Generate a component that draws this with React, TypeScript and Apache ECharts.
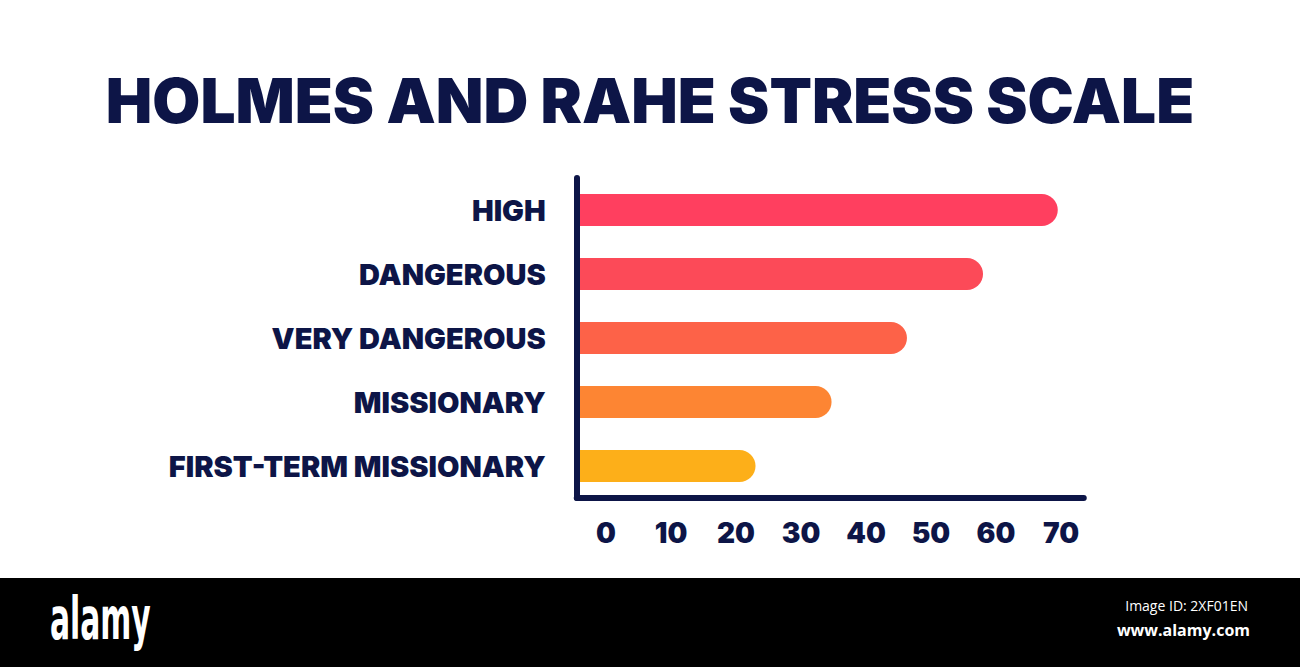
import React, { useEffect, useRef } from "react";
import * as echarts from "echarts";

const TITLE = "HOLMES AND RAHE STRESS SCALE";
const categories = ["HIGH", "DANGEROUS", "VERY DANGEROUS", "MISSIONARY", "FIRST-TERM MISSIONARY"];
const values = [69.5, 58, 46.3, 34.7, 23];
const barColors = ["#FF3F5F", "#FC4A58", "#FD6248", "#FD8533", "#FDAF19"];
const tickValues = [0, 10, 20, 30, 40, 50, 60, 70];
const AXIS_MIN = -4.5;
const AXIS_MAX = 73.5;

const NAVY = "#0D1547";
const FONT = "Inter, 'Noto Sans', sans-serif";

export default function App() {
  const ref = useRef<HTMLDivElement>(null);
  useEffect(() => {
    if (!ref.current) return;
    const chart = echarts.init(ref.current, undefined, { renderer: "svg" });
    chart.setOption({
      animation: false,
      backgroundColor: "#ffffff",
      title: {
        text: TITLE,
        left: "center",
        top: 64,
        textStyle: { fontFamily: FONT, fontWeight: 900, fontSize: 62, color: NAVY },
      },
      grid: { left: 576.75, top: 178, width: 507, height: 320, containLabel: false },
      xAxis: {
        type: "value",
        min: AXIS_MIN,
        max: AXIS_MAX,
        splitLine: { show: false },
        axisTick: { show: false },
        axisLine: { show: true, lineStyle: { color: NAVY, width: 6, cap: "round" } },
        axisLabel: {
          customValues: tickValues,
          margin: 21,
          fontFamily: FONT,
          fontWeight: 900,
          fontSize: 28,
          color: NAVY,
        },
      },
      yAxis: {
        type: "category",
        data: categories,
        inverse: true,
        z: 5,
        axisTick: { show: false },
        axisLine: { show: true, onZero: false, lineStyle: { color: NAVY, width: 6, cap: "round" } },
        axisLabel: {
          margin: 31,
          fontFamily: FONT,
          fontWeight: 900,
          fontSize: 29,
          color: NAVY,
        },
      },
      series: [
        {
          type: "bar",
          stack: "s",
          barWidth: 32,
          silent: true,
          data: values.map((_, i) => ({ value: AXIS_MIN, itemStyle: { color: barColors[i] } })),
        },
        {
          type: "bar",
          stack: "s",
          barWidth: 32,
          data: values.map((v, i) => ({
            value: v,
            itemStyle: { color: barColors[i], borderRadius: [0, 16, 16, 0] },
          })),
        },
      ],
      graphic: [
        { type: "rect", left: 0, top: 578, shape: { width: 1300, height: 89 }, style: { fill: "#000000" }, z: 10 },
        {
          type: "text",
          x: 50,
          y: 590,
          scaleX: 0.57,
          z: 11,
          style: {
            text: "alamy",
            fill: "#ffffff",
            font: "bold 58px 'DejaVu Sans Condensed', 'DejaVu Sans', sans-serif",
          },
        },
        {
          type: "text",
          right: 52,
          top: 598,
          z: 11,
          style: { text: "Image ID: 2XF01EN", fill: "#ffffff", font: "14px 'Open Sans', sans-serif" },
        },
        {
          type: "text",
          right: 50,
          top: 622,
          z: 11,
          style: { text: "www.alamy.com", fill: "#ffffff", font: "bold 16px 'Open Sans', sans-serif" },
        },
      ],
    });
    return () => chart.dispose();
  }, []);
  return (
    <div
      ref={ref}
      style={{ position: "fixed", left: 0, top: 0, width: 1300, height: 667 }}
    />
  );
}
